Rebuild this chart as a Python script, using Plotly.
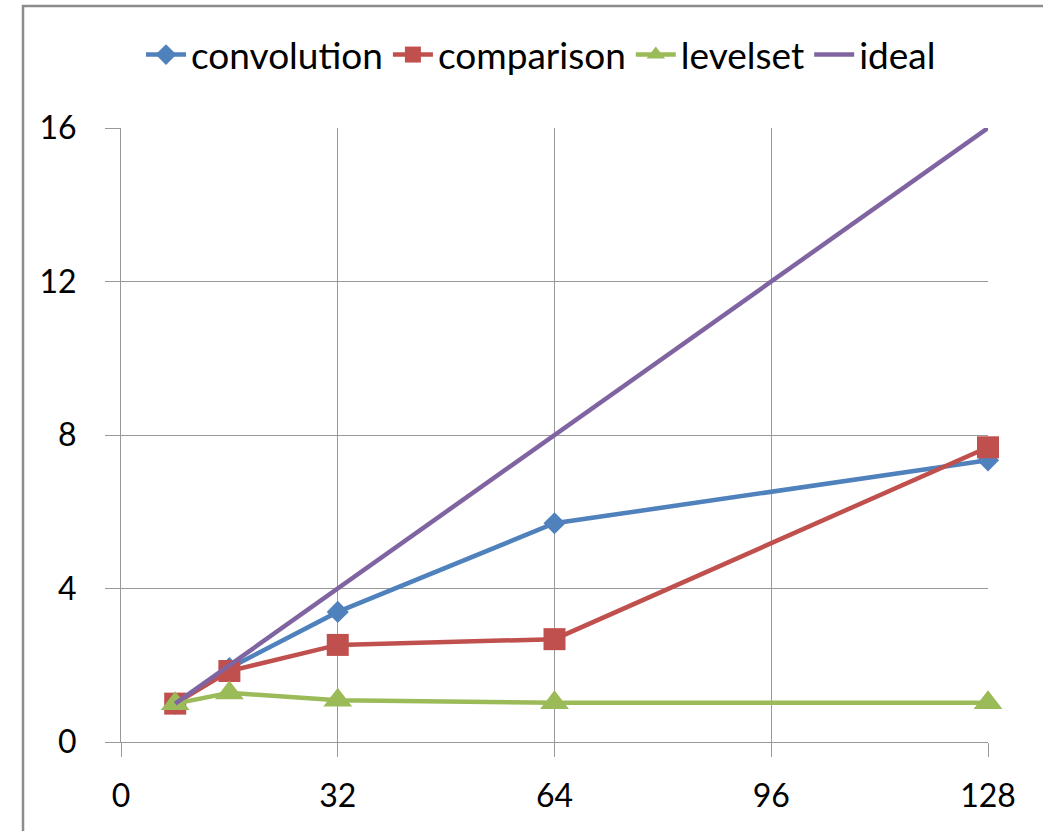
import plotly.graph_objects as go

x_vals = [8, 16, 32, 64, 128]
convolution = [1.0, 1.93, 3.39, 5.70, 7.34]
comparison = [1.0, 1.85, 2.53, 2.68, 7.68]
levelset = [1.0, 1.28, 1.09, 1.02, 1.02]
ideal = [1, 2, 4, 8, 16]

x_ticks = [0, 32, 64, 96, 128]
y_ticks = [0, 4, 8, 12, 16]

FONT = "Lato"
GRID = "#999999"

W, H = 1043, 831
L, R, T, B = 121, 55, 128, 89

fig = go.Figure()
fig.add_trace(go.Scatter(x=x_vals, y=convolution, name="convolution", mode="lines+markers",
                         line=dict(color="#4F81BD", width=4.5),
                         marker=dict(symbol="diamond", size=17, color="#4F81BD"), cliponaxis=False))
fig.add_trace(go.Scatter(x=x_vals, y=comparison, name="comparison", mode="lines+markers",
                         line=dict(color="#C0504D", width=4.5),
                         marker=dict(symbol="square", size=22, color="#C0504D"), cliponaxis=False))
fig.add_trace(go.Scatter(x=x_vals, y=levelset, name="levelset", mode="lines+markers",
                         line=dict(color="#9BBB59", width=4.5),
                         marker=dict(symbol="triangle-up", size=25, color="#9BBB59"), cliponaxis=False))
fig.add_trace(go.Scatter(x=x_vals, y=ideal, name="ideal", mode="lines",
                         line=dict(color="#8064A2", width=4.5), cliponaxis=False))

pw = W - L - R
ph = H - T - B
def px_x(p):
    return (p - L) / pw
def px_y(p):
    return (H - B - p) / ph

fig.add_shape(type="rect", xref="paper", yref="paper",
              x0=px_x(23), x1=px_x(1060), y0=px_y(850), y1=px_y(6),
              line=dict(color="#8c8c8c", width=2.5), fillcolor="rgba(0,0,0,0)", layer="below")

fig.update_layout(
    width=W, height=H,
    margin=dict(l=L, r=R, t=T, b=B),
    paper_bgcolor="white", plot_bgcolor="white",
    font=dict(family=FONT, size=32, color="black"),
    showlegend=True,
    legend=dict(orientation="h", x=px_x(541), xanchor="center", y=px_y(55), yanchor="middle",
                font=dict(family=FONT, size=37), itemwidth=40, tracegroupgap=0,
                bgcolor="rgba(0,0,0,0)"),
    xaxis=dict(range=[0, 128], tickvals=x_ticks, ticktext=[str(v) for v in x_ticks],
               showgrid=True, gridcolor=GRID, gridwidth=1,
               ticks="outside", ticklen=14, tickcolor=GRID, tickwidth=1,
               showline=True, linecolor=GRID, linewidth=1, zeroline=False,
               ticklabelstandoff=12, fixedrange=True),
    yaxis=dict(range=[0, 16], tickvals=y_ticks, ticktext=[str(v) for v in y_ticks],
               showgrid=True, gridcolor=GRID, gridwidth=1,
               ticks="outside", ticklen=15, tickcolor=GRID, tickwidth=1,
               showline=True, linecolor=GRID, linewidth=1, zeroline=False,
               ticklabelstandoff=22, fixedrange=True),
)

fig.write_html("out.html")
